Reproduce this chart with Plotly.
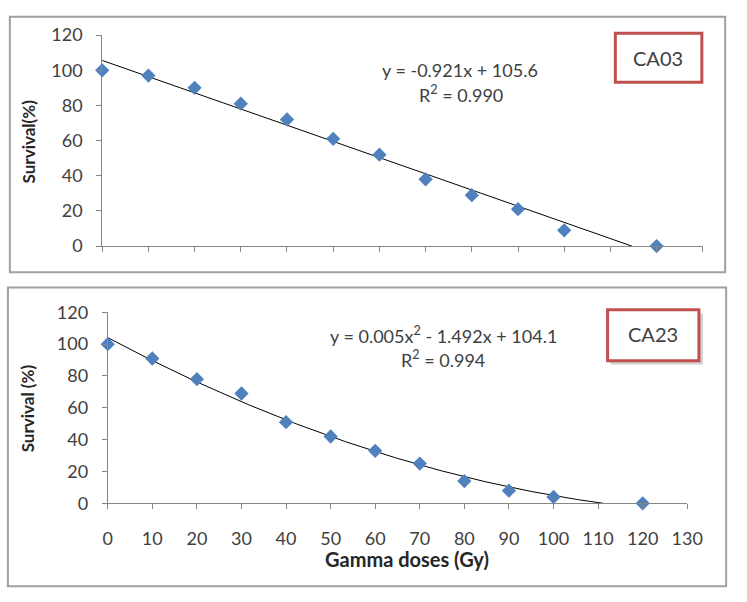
import numpy as np
import plotly.graph_objects as go

# ---- data ----
doses = [0, 10, 20, 30, 40, 50, 60, 70, 80, 90, 100, 120]
surv_ca03 = [100, 97, 90, 81, 72, 61, 52, 38, 29, 21, 9, 0]
surv_ca23 = [100, 91, 78, 69, 51, 42, 33, 25, 14, 8, 4, 0]
fit_ca03 = [-0.921, 105.6]          # linear
fit_ca23 = [0.005, -1.492, 104.1]   # quadratic
x_ticks = [0, 10, 20, 30, 40, 50, 60, 70, 80, 90, 100, 110, 120, 130]
y_ticks = [0, 20, 40, 60, 80, 100, 120]

W, H = 747, 602
FONT = "Lato"
BLUE = "#4F81BD"
TXT = "#404040"
AX = "#868686"


def px(x):
    return x / W


def py(y):
    return 1 - y / H


def trend(coefs):
    roots = np.roots(coefs)
    r = [v.real for v in roots if abs(v.imag) < 1e-9 and v.real > 0]
    xend = min(r)
    xs = np.linspace(0, xend, 200)
    return xs, np.polyval(coefs, xs)


fig = go.Figure()

for i, (ys, coefs) in enumerate([(surv_ca03, fit_ca03), (surv_ca23, fit_ca23)]):
    xa = "x" if i == 0 else "x2"
    ya = "y" if i == 0 else "y2"
    tx, ty = trend(coefs)
    fig.add_trace(go.Scatter(x=tx, y=ty, mode="lines", line=dict(color="black", width=1),
                             xaxis=xa, yaxis=ya, showlegend=False, hoverinfo="skip"))
    fig.add_trace(go.Scatter(x=doses, y=ys, mode="markers",
                             marker=dict(symbol="diamond", size=11, color=BLUE),
                             cliponaxis=False, xaxis=xa, yaxis=ya, showlegend=False))

axis_common = dict(showgrid=False, zeroline=False, showline=True, linecolor=AX, linewidth=1,
                   ticks="outside", ticklen=5, tickcolor=AX,
                   tickfont=dict(family=FONT, size=18, color=TXT))

fig.update_layout(
    width=W, height=H, margin=dict(l=0, r=0, t=0, b=0),
    paper_bgcolor="white", plot_bgcolor="white",
    xaxis=dict(domain=[px(100), px(718)], range=[0, 130], tickvals=x_ticks,
               showticklabels=False, anchor="y", **axis_common),
    yaxis=dict(domain=[py(243), py(24)], range=[0, 120], tickvals=y_ticks,
               anchor="x", ticklabelstandoff=10, **axis_common),
    xaxis2=dict(domain=[px(105.7), px(702)], range=[0, 130], tickvals=x_ticks,
                anchor="y2", ticklabelstandoff=14, **axis_common),
    yaxis2=dict(domain=[py(510), py(311.7)], range=[0, 120], tickvals=y_ticks,
                anchor="x2", ticklabelstandoff=10, **axis_common),
)

shapes = []
# panel frames
for (x0, y0, x1, y1) in [(5, 5, 741, 270), (3, 286, 742, 596)]:
    shapes.append(dict(type="rect", xref="paper", yref="paper", x0=px(x0), x1=px(x1),
                       y0=py(y1), y1=py(y0), line=dict(color="#A0A0A0", width=2)))
# shadow for bottom label box
shapes.append(dict(type="rect", xref="paper", yref="paper", x0=px(623), x1=px(718),
                   y0=py(366), y1=py(313), line=dict(width=0), fillcolor="rgba(0,0,0,0.18)"))
# label boxes
for (x0, y0, x1, y1) in [(628, 22, 717, 73), (620, 309, 714, 362)]:
    shapes.append(dict(type="rect", xref="paper", yref="paper", x0=px(x0), x1=px(x1),
                       y0=py(y1), y1=py(y0), line=dict(color="#C0504D", width=3),
                       fillcolor="white"))
fig.update_layout(shapes=shapes)

ann = []


def A(x, y, text, size, bold=False, angle=0):
    t = f"<b>{text}</b>" if bold else text
    ann.append(dict(x=px(x), y=py(y), xref="paper", yref="paper", text=t, showarrow=False,
                    textangle=angle, xanchor="center", yanchor="middle",
                    font=dict(family=FONT, size=size, color=TXT if not bold else "#262626")))


A(468, 60, "y = -0.921x + 105.6", 18)
A(469, 85, "R<sup>2</sup> = 0.990", 18)
A(672, 48, "CA03", 20)
A(451, 335, "y = 0.005x<sup>2</sup> - 1.492x + 104.1", 18)
A(451, 360, "R<sup>2</sup> = 0.994", 18)
A(667, 334, "CA23", 20)
A(24, 134, "Survival(%)", 17, bold=True, angle=-90)
A(24, 411, "Survival (%)", 17, bold=True, angle=-90)
A(414, 568, "Gamma doses (Gy)", 20, bold=True)
fig.update_layout(annotations=ann)

fig.write_html("out.html", config={"displayModeBar": False},
               post_script="document.body.style.margin='0';document.body.style.overflow='hidden';")
